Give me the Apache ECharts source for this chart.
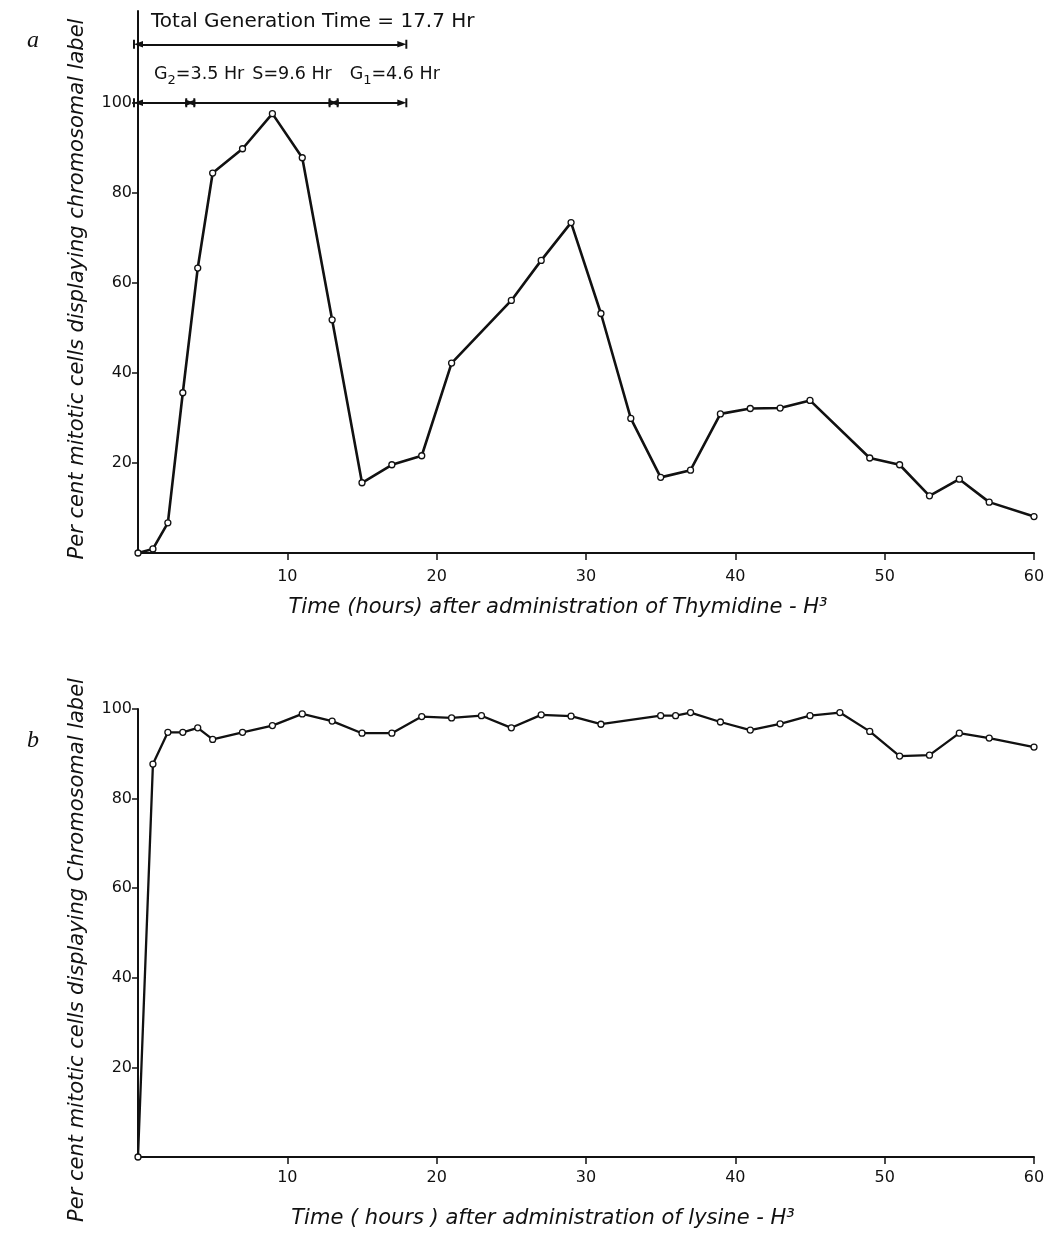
<!DOCTYPE html>
<html>
<head>
<meta charset="utf-8">
<script src="https://cdn.jsdelivr.net/npm/echarts@6/dist/echarts.min.js"></script>
<style>
html,body{margin:0;padding:0;background:#fff;}
#chart{width:1048px;height:1246px;}
</style>
</head>
<body>
<div id="chart"></div>
<script>
// Panel a: Thymidine-H3
const hoursA = [0,1,2,3,4,5,7,9,11,13,15,17,19,21,25,27,29,31,33,35,37,39,41,43,45,49,51,53,55,57,60];
const labelA = [0,0.9,6.7,35.6,63.3,84.4,89.8,97.6,87.8,51.8,15.6,19.6,21.6,42.2,56.1,65,73.4,53.2,29.9,16.8,18.4,30.9,32.1,32.2,33.9,21.1,19.6,12.7,16.4,11.3,8.1];
// Panel b: lysine-H3
const hoursB = [0,1,2,3,4,5,7,9,11,13,15,17,19,21,23,25,27,29,31,35,36,37,39,41,43,45,47,49,51,53,55,57,60];
const labelB = [0,87.7,94.8,94.8,95.8,93.2,94.8,96.3,98.9,97.3,94.6,94.6,98.3,98.0,98.5,95.8,98.7,98.4,96.6,98.5,98.5,99.2,97.1,95.3,96.7,98.5,99.2,95.0,89.5,89.7,94.6,93.5,91.5];
// Cell cycle phases (hours)
const phaseNames = ['G₂','S','G₁'];
const phaseHours = [3.5, 9.6, 4.6];
const totalGeneration = 17.7;
// Tick labels
const xTicks = [10,20,30,40,50,60];
const yTicks = [20,40,60,80,100];

const FONT = 'DejaVu Sans';
const ink = '#111';
const endSym = 'path://M0,0L5,11L-5,11Z M-7,-1.2L7,-1.2L7,1.2L-7,1.2Z';

function xAxisCfg(gridIndex, name, pad, gap, margin) {
  return {
    type: 'value', gridIndex, min: 0, max: 60, interval: 10,
    name, nameLocation: 'middle', nameGap: gap,
    nameTextStyle: {fontFamily: FONT, fontStyle: 'italic', fontSize: 21, color: ink, padding: pad},
    axisLine: {show: true, onZero: false, lineStyle: {color: ink, width: 2}},
    axisTick: {show: true, length: 7, customValues: xTicks, lineStyle: {color: ink, width: 1.5}},
    axisLabel: {customValues: xTicks, margin: margin, fontFamily: FONT, fontSize: 16, color: ink},
    splitLine: {show: false}
  };
}
function yAxisCfg(gridIndex, name, max, pad) {
  return {
    type: 'value', gridIndex, min: 0, max, interval: 20,
    name, nameLocation: 'middle', nameGap: 50, nameRotate: 90,
    nameTextStyle: {fontFamily: FONT, fontStyle: 'italic', fontSize: 21, color: ink, padding: pad},
    axisLine: {show: true, onZero: false, lineStyle: {color: ink, width: 2}},
    axisTick: {show: true, length: 6, customValues: yTicks, lineStyle: {color: ink, width: 1.5}},
    axisLabel: {customValues: yTicks, margin: 6, fontFamily: FONT, fontSize: 16, color: ink},
    splitLine: {show: false}
  };
}

// Phase annotation lines
const phaseY = 100, totalY = 113;
const markData = [];
markData.push([
  {coord: [0, totalY], label: {show: true, position: 'insideStartTop', distance: 13, padding: [0,0,0,0],
    formatter: 'Total Generation Time = ' + totalGeneration + ' Hr', fontFamily: FONT, fontSize: 20, color: ink}},
  {coord: [totalGeneration, totalY]}
]);
let start = 0;
const labelPads = [0, 46, 0];
phaseNames.forEach((nm, i) => {
  const end = start + phaseHours[i];
  const base = nm.charAt(0), sub = nm === 'G₂' ? '2' : (nm === 'G₁' ? '1' : '\u200b');
  const txt = '{n|' + base + '}{s|' + sub + '}{n|=' + phaseHours[i] + ' Hr}';
  markData.push([
    {coord: [start, phaseY], label: {show: true, position: 'insideStartTop', distance: 16, padding: [0,0,0,labelPads[i]],
      formatter: txt, color: ink,
      rich: {n: {fontFamily: FONT, fontSize: 17.5, color: ink}, s: {fontFamily: FONT, fontSize: 13, color: ink, padding: [12,0,0,0]}}}},
    {coord: [end, phaseY]}
  ]);
  start = end;
});

const chart = echarts.init(document.getElementById('chart'), null, {renderer: 'canvas'});
chart.setOption({
  backgroundColor: '#fff',
  animation: false,
  title: [
    {text: 'a', left: 22, top: 24, textStyle: {fontFamily: 'Liberation Serif', fontStyle: 'italic', fontSize: 24, fontWeight: 'normal', color: ink}},
    {text: 'b', left: 22, top: 724, textStyle: {fontFamily: 'Liberation Serif', fontStyle: 'italic', fontSize: 24, fontWeight: 'normal', color: ink}}
  ],
  grid: [
    {left: 138, right: 14, top: 11, height: 542},
    {left: 138, right: 14, top: 709, height: 448}
  ],
  xAxis: [
    xAxisCfg(0, 'Time (hours) after administration of Thymidine - H³', [0,56,0,0], 44, 16),
    xAxisCfg(1, 'Time ( hours ) after administration of lysine - H³', [0,86,0,0], 51, 13)
  ],
  yAxis: [
    yAxisCfg(0, 'Per cent mitotic cells displaying chromosomal label', 120.4, [0,14,0,0]),
    yAxisCfg(1, 'Per cent mitotic cells displaying Chromosomal label', 100, [0,34,0,0])
  ],
  series: [
    {
      type: 'line', xAxisIndex: 0, yAxisIndex: 0,
      data: hoursA.map((h, i) => [h, labelA[i]]),
      symbol: 'circle', symbolSize: 6, showAllSymbol: true,
      lineStyle: {color: ink, width: 2.6},
      itemStyle: {color: '#fff', borderColor: ink, borderWidth: 1.3},
      markLine: {
        silent: true, symbol: [endSym, endSym], symbolSize: [9, 10],
        lineStyle: {color: ink, width: 2, type: 'solid'},
        data: markData
      }
    },
    {
      type: 'line', xAxisIndex: 1, yAxisIndex: 1,
      data: hoursB.map((h, i) => [h, labelB[i]]),
      symbol: 'circle', symbolSize: 6, showAllSymbol: true,
      lineStyle: {color: ink, width: 2.3},
      itemStyle: {color: '#fff', borderColor: ink, borderWidth: 1.3}
    }
  ]
});
</script>
</body>
</html>
